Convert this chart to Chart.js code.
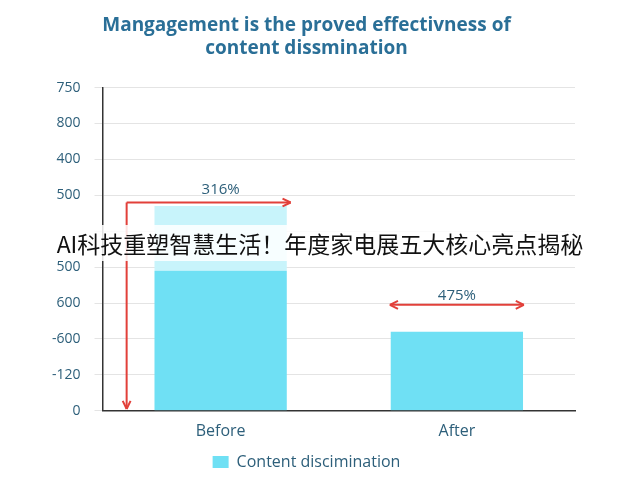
<!DOCTYPE html>
<html>
<head>
<meta charset="utf-8">
<script src="https://cdn.jsdelivr.net/npm/chart.js@4"></script>
<style>
  body { margin: 0; background: #fff; }
  #wrap { width: 640px; height: 480px; position: relative; }
  #banner {
    position: absolute; left: 0; top: 225px; width: 640px; height: 36px;
    background: rgba(255,255,255,0.85); font: 23px "Noto Sans CJK SC", sans-serif;
    color: #111; text-align: center; line-height: 36px; white-space: nowrap;
  }
</style>
</head>
<body>
<div id="wrap">
  <canvas id="chart" width="640" height="480"></canvas>
  <div id="banner">AI科技重塑智慧生活！年度家电展五大核心亮点揭秘</div>
</div>
<script>
const categories = ['Before', 'After'];
const tickLabels = ['0', '-120', '-600', '600', '500', '', '500', '400', '800', '750'];
const contentValues = [3.9, 2.2];
const upperValues = [1.8, 0];
const noteLabels = ['316%', '475%'];

// red arrows and percentage notes
const arrowsPlugin = {
    id: 'arrows',
    afterDatasetsDraw(chart) {
        const ctx = chart.ctx;
        const x = chart.scales.x, y = chart.scales.y;
        const red = '#e2403a';
        function head(px, py, ang) {
            ctx.beginPath();
            ctx.moveTo(px, py);
            ctx.lineTo(px - 9 * Math.cos(ang - 0.45), py - 9 * Math.sin(ang - 0.45));
            ctx.moveTo(px, py);
            ctx.lineTo(px - 9 * Math.cos(ang + 0.45), py - 9 * Math.sin(ang + 0.45));
            ctx.stroke();
        }
        ctx.save();
        ctx.strokeStyle = red;
        ctx.lineWidth = 2;
        // Before
        const bx = x.getPixelForValue(0);
        const topY = y.getPixelForValue(5.8);
        const left = bx - 94, right = bx + 70;
        ctx.beginPath();
        ctx.moveTo(left, topY); ctx.lineTo(right, topY);
        ctx.moveTo(left, topY); ctx.lineTo(left, y.getPixelForValue(0.05));
        ctx.stroke();
        head(right, topY, 0);
        head(left, y.getPixelForValue(0.05), Math.PI / 2);
        // After
        const ax = x.getPixelForValue(1);
        const ay = y.getPixelForValue(2.95);
        ctx.beginPath();
        ctx.moveTo(ax - 67, ay); ctx.lineTo(ax + 67, ay);
        ctx.stroke();
        head(ax + 67, ay, 0);
        head(ax - 67, ay, Math.PI);
        ctx.fillStyle = '#2d5f7a';
        ctx.font = '15px "Open Sans", sans-serif';
        ctx.textAlign = 'center';
        ctx.fillText(noteLabels[0], bx, y.getPixelForValue(6.3) + 5);
        ctx.fillText(noteLabels[1], ax, y.getPixelForValue(3.35) + 5);
        ctx.restore();
    }
};

new Chart(document.getElementById('chart'), {
    type: 'bar',
    data: {
        labels: categories,
        datasets: [{
            label: 'Content discimination',
            data: contentValues,
            backgroundColor: '#6fe0f4',
            barPercentage: 0.56,
            categoryPercentage: 1
        }, {
            label: 'upper',
            data: upperValues,
            backgroundColor: '#c8f4fb',
            barPercentage: 0.56,
            categoryPercentage: 1
        }]
    },
    options: {
        responsive: false,
        animation: false,
        layout: { padding: { left: 38, right: 65, top: 0, bottom: 0 } },
        plugins: {
            title: {
                display: true,
                text: ['Mangagement is the proved effectivness of', 'content dissmination'],
                color: '#2a6f97',
                font: { size: 19, weight: 'bold', family: '"Open Sans", sans-serif' },
                padding: { top: 14, bottom: 28 }
            },
            legend: {
                position: 'bottom',
                labels: {
                    filter: item => item.datasetIndex === 0,
                    color: '#2d5f7a',
                    font: { size: 16, family: '"Open Sans", sans-serif' },
                    boxWidth: 16, boxHeight: 12
                }
            },
            tooltip: { enabled: false }
        },
        scales: {
            x: {
                stacked: true,
                grid: { display: false },
                border: { color: '#333', width: 1.5 },
                ticks: { color: '#2d5f7a', font: { size: 16, family: '"Open Sans", sans-serif' } }
            },
            y: {
                stacked: true,
                min: 0, max: 9,
                border: { color: '#333', width: 1.5 },
                grid: { color: '#e4e4e4' },
                ticks: {
                    stepSize: 1,
                    color: '#2d5f7a',
                    padding: 14,
                    font: { size: 14, family: '"Open Sans", sans-serif' },
                    callback: v => tickLabels[v]
                }
            }
        }
    },
    plugins: [arrowsPlugin]
});
</script>
</body>
</html>
